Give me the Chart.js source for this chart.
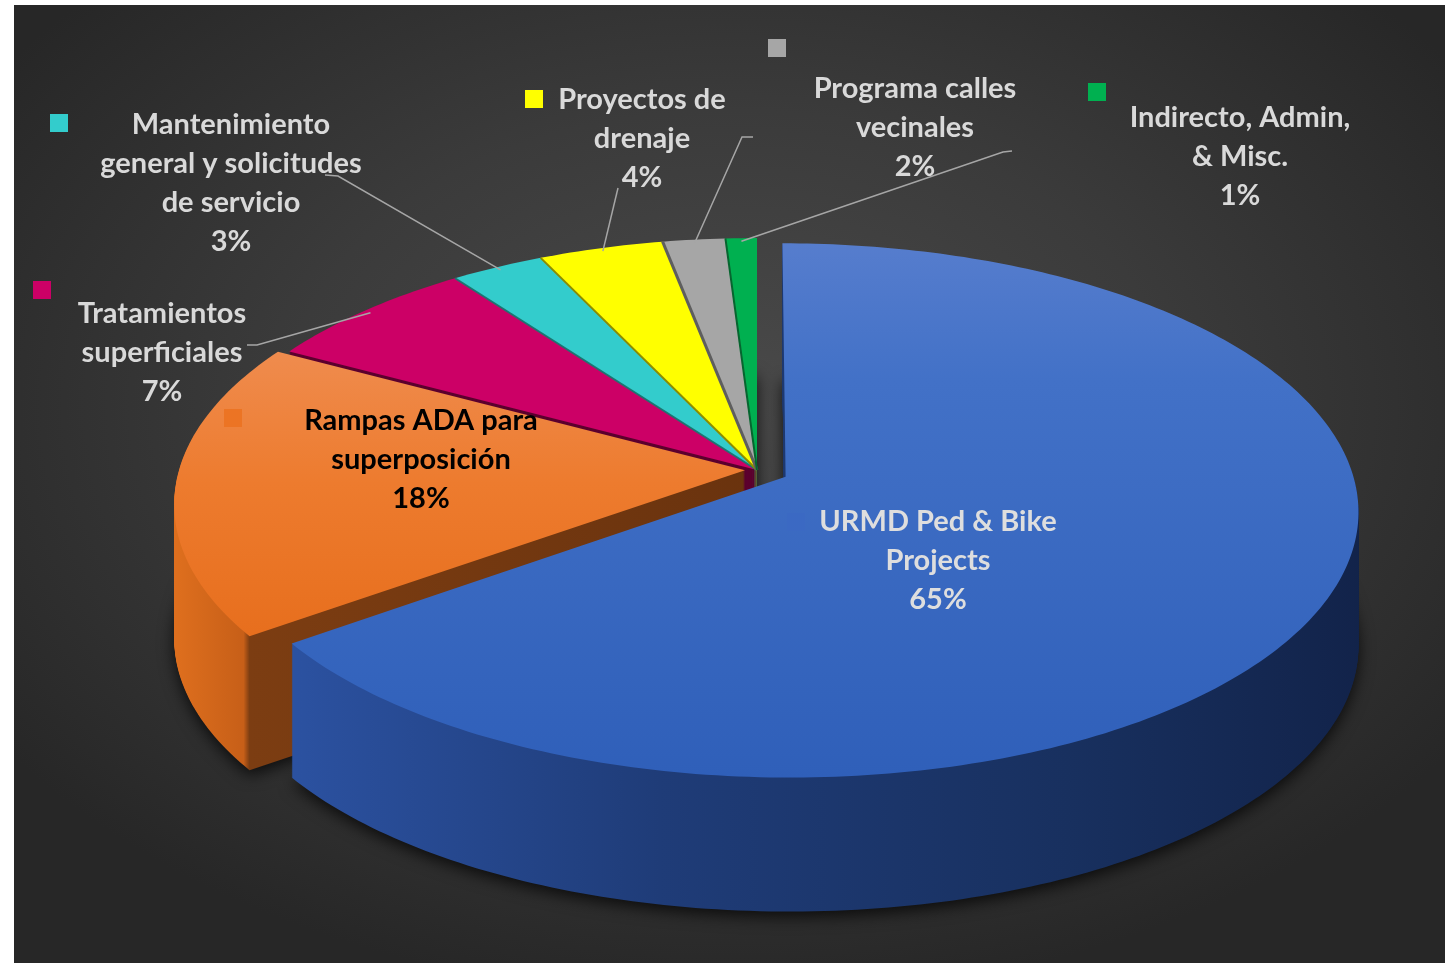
<!DOCTYPE html>
<html>
<head>
<meta charset="utf-8">
<script src="https://cdn.jsdelivr.net/npm/chart.js@4.4.0/dist/chart.umd.min.js"></script>
<style>
  html, body { margin: 0; padding: 0; background: #fff; }
  #frame {
    position: absolute; left: 14px; top: 5px; width: 1431px; height: 958px;
    background: radial-gradient(ellipse 62% 62% at 50% 42%, #4a4a4a 0%, #3b3b3b 50%, #272727 100%);
  }
  canvas { display: block; }
</style>
</head>
<body>
<div id="frame"><canvas id="budget-chart" width="1431" height="958"></canvas></div>
<script>
// data
const categories = [
  ['URMD Ped & Bike', 'Projects'],
  ['Rampas ADA para', 'superposición'],
  ['Tratamientos', 'superficiales'],
  ['Mantenimiento', 'general y solicitudes', 'de servicio'],
  ['Proyectos de', 'drenaje'],
  ['Programa calles', 'vecinales'],
  ['Indirecto, Admin,', '& Misc.']
];
const shares = [65, 18, 7, 3, 4, 2, 1];

// styles
const topColors  = ['#3b69c3', '#ec7424', '#cc0066', '#33cccc', '#ffff00', '#a6a6a6', '#00b050'];
const sideColors = ['#1f3c78', '#7a3c12', '#5c002e', '#1d7472', '#8c8c00', '#5e5e5e', '#06652f'];
const edgeWidths = [0, 0, 0, 2, 2, 3, 2];
const explode    = [32, 12, 0, 0, 0, 0, 0];
const textColors = ['#dedede', '#000000', '#d9d9d9', '#d9d9d9', '#d9d9d9', '#d9d9d9', '#d9d9d9'];

// label placement (canvas px): text centre of first line, legend key centre, leader line start
const labelPos = [
  {x: 924, y: 517, kx: 782, ky: 517, leader: null},
  {x: 407, y: 416, kx: 219, ky: 413, leader: null},
  {x: 148, y: 309, kx: 28,  ky: 285, leader: [[233, 340], [243, 340]]},
  {x: 217, y: 120, kx: 45,  ky: 118, leader: [[311, 170], [324, 171]]},
  {x: 628, y: 95,  kx: 520, ky: 94,  leader: [[604, 183]]},
  {x: 901, y: 84,  kx: 763, ky: 43,  leader: [[739, 132], [728, 132]]},
  {x: 1226, y: 113, kx: 1083, ky: 87, leader: [[998, 146], [989, 147]]}
];

// simple perspective: tilt of the disc and eye distance (px)
const TILT = 0.4614;
const EYE = 4500;
const DEPTH = 134;

function midAngle(arc) {
  return (arc.startAngle + arc.endAngle) / 2;
}

function project(arc, px, py) {
  const s = EYE / (EYE - py);
  return [arc.x + px * s, arc.y + py * TILT * s];
}

function explodeVec(arc, i) {
  const mid = midAngle(arc);
  return [Math.cos(mid) * explode[i], Math.sin(mid) * explode[i]];
}

function slicePath(ctx, arc, i, dy) {
  const [ex, ey] = explodeVec(arc, i);
  const R = arc.outerRadius;
  const n = Math.max(2, Math.ceil(arc.circumference * 60));
  ctx.beginPath();
  let p = project(arc, ex, ey);
  ctx.moveTo(p[0], p[1] + dy);
  for (let j = 0; j <= n; j++) {
    const a = arc.startAngle + (arc.endAngle - arc.startAngle) * j / n;
    p = project(arc, ex + Math.cos(a) * R, ey + Math.sin(a) * R);
    ctx.lineTo(p[0], p[1] + dy);
  }
  ctx.closePath();
}

function rimPoint(arc, i, angle, frac) {
  const [ex, ey] = explodeVec(arc, i);
  const r = arc.outerRadius * frac;
  return project(arc, ex + Math.cos(angle) * r, ey + Math.sin(angle) * r);
}

function sideFill(ctx, arc, i) {
  const R = arc.outerRadius;
  if (i === 0) {
    const g = ctx.createLinearGradient(arc.x - R, 0, arc.x + R + 40, 0);
    g.addColorStop(0, '#2f59ad');
    g.addColorStop(0.12, '#2a4f9c');
    g.addColorStop(0.4, '#1f3c78');
    g.addColorStop(0.75, '#18305f');
    g.addColorStop(1, '#12234a');
    return g;
  }
  if (i === 1) {
    // outer wall bright, cut face towards the blue slice dark
    const left = arc.x - R - 30;
    const corner = rimPoint(arc, i, arc.startAngle, 1)[0];
    const g = ctx.createLinearGradient(left, 0, arc.x, 0);
    const t = Math.min(0.98, Math.max(0.02, (corner - left) / (arc.x - left)));
    g.addColorStop(0, '#e3721f');
    g.addColorStop(t - 0.01, '#c75f18');
    g.addColorStop(t, '#7c3d12');
    g.addColorStop(1, '#6a330e');
    return g;
  }
  return sideColors[i];
}

function topFill(ctx, arc, i) {
  const R = arc.outerRadius;
  if (i === 0) {
    const g = ctx.createLinearGradient(0, arc.y - R * TILT, 0, arc.y + R * TILT * 1.2);
    g.addColorStop(0, '#5b80cf');
    g.addColorStop(0.3, '#4271c7');
    g.addColorStop(1, '#2f5fb9');
    return g;
  }
  if (i === 1) {
    const g = ctx.createLinearGradient(0, arc.y - R * 0.3, 0, arc.y + R * 0.35);
    g.addColorStop(0, '#f0925a');
    g.addColorStop(0.5, '#ed7b2e');
    g.addColorStop(1, '#e66c1a');
    return g;
  }
  return topColors[i];
}

const pie3d = {
  id: 'pie3d',
  beforeDatasetsDraw(chart) {
    const ctx = chart.ctx;
    const arcs = chart.getDatasetMeta(0).data;
    const sides = arcs.map((arc, i) => sideFill(ctx, arc, i));
    // walls: stacked copies of each slice, deepest first
    for (let d = DEPTH; d >= 1; d--) {
      ctx.save();
      if (d === DEPTH) {
        ctx.shadowColor = 'rgba(0,0,0,0.75)';
        ctx.shadowBlur = 16;
        ctx.shadowOffsetY = 5;
      }
      arcs.forEach((arc, i) => {
        slicePath(ctx, arc, i, d);
        ctx.fillStyle = sides[i];
        ctx.fill();
      });
      ctx.restore();
    }
    // top faces
    arcs.forEach((arc, i) => {
      slicePath(ctx, arc, i, 0);
      ctx.fillStyle = topFill(ctx, arc, i);
      ctx.fill();
    });
    // thin dark seams between the small slices
    ctx.save();
    arcs.forEach((arc, i) => {
      if (!edgeWidths[i]) return;
      const a = rimPoint(arc, i, arc.startAngle, 0);
      const b = rimPoint(arc, i, arc.startAngle, 1);
      ctx.strokeStyle = sideColors[i];
      ctx.lineWidth = edgeWidths[i];
      ctx.beginPath();
      ctx.moveTo(a[0], a[1]);
      ctx.lineTo(b[0], b[1]);
      ctx.stroke();
    });
    ctx.restore();
    return false;
  },
  afterDraw(chart) {
    const ctx = chart.ctx;
    const arcs = chart.getDatasetMeta(0).data;
    const total = shares.reduce((a, b) => a + b, 0);
    ctx.save();
    // leader lines
    ctx.strokeStyle = '#a6a6a6';
    ctx.lineWidth = 1.5;
    labelPos.forEach((p, i) => {
      if (!p.leader) return;
      const end = rimPoint(arcs[i], i, midAngle(arcs[i]), 0.985);
      ctx.beginPath();
      ctx.moveTo(p.leader[0][0], p.leader[0][1]);
      p.leader.slice(1).forEach(pt => ctx.lineTo(pt[0], pt[1]));
      ctx.lineTo(end[0], end[1]);
      ctx.stroke();
    });
    // legend keys and texts
    ctx.font = 'bold 29px Lato';
    ctx.textAlign = 'center';
    ctx.textBaseline = 'middle';
    labelPos.forEach((p, i) => {
      ctx.fillStyle = topColors[i];
      ctx.fillRect(p.kx - 9, p.ky - 9, 18, 18);
      const lines = categories[i].concat([Math.round(shares[i] / total * 100) + '%']);
      ctx.fillStyle = textColors[i];
      lines.forEach((t, j) => ctx.fillText(t, p.x, p.y + j * 39));
    });
    ctx.restore();
  }
};

const budgetChart = new Chart(document.getElementById('budget-chart'), {
  type: 'pie',
  data: {
    labels: categories,
    datasets: [{
      data: shares,
      backgroundColor: topColors,
      borderWidth: 0,
      radius: 566
    }]
  },
  options: {
    responsive: false,
    animation: false,
    layout: { padding: { left: 55, bottom: 28 } },
    plugins: {
      legend: { display: false },
      tooltip: { enabled: false }
    }
  },
  plugins: [pie3d]
});
</script>
</body>
</html>
